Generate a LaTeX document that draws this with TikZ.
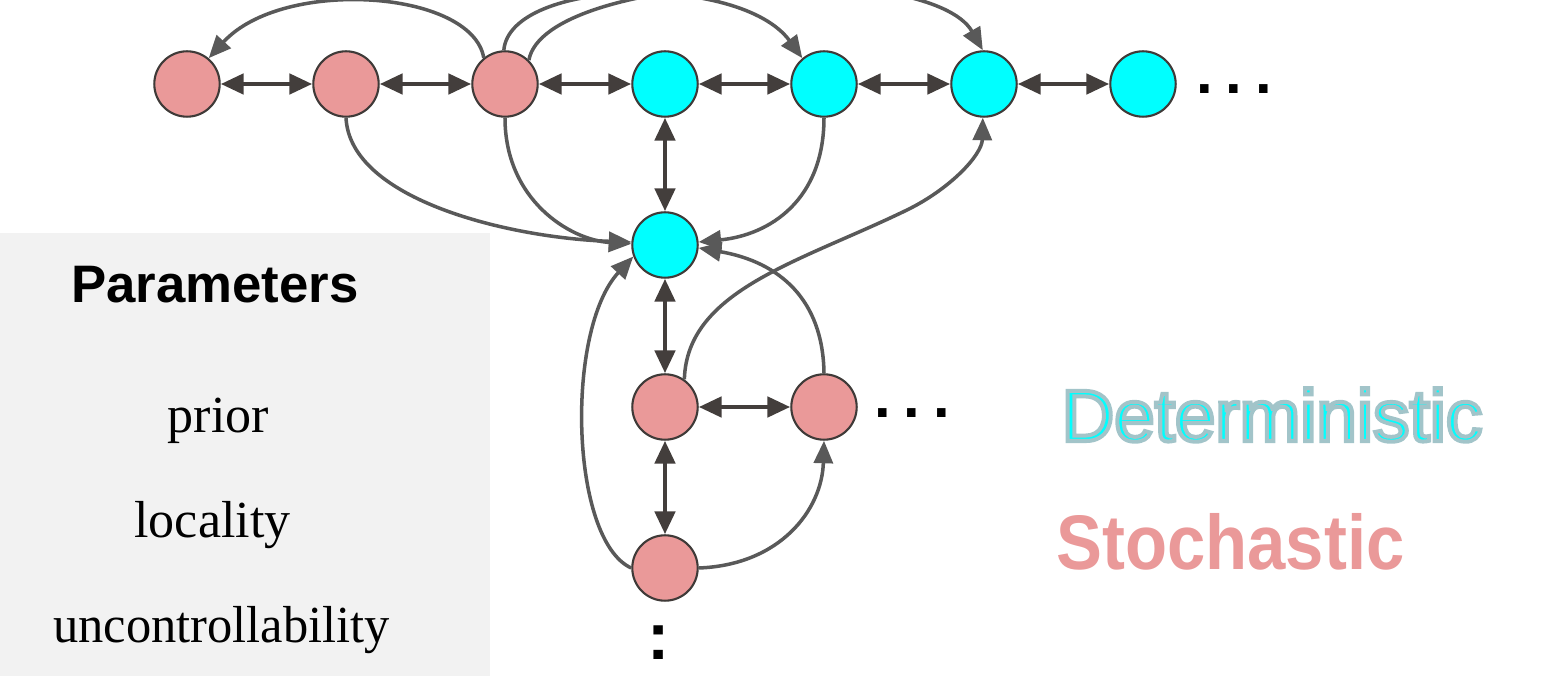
\documentclass[tikz,border=0pt]{standalone}
\usepackage{fontspec}
\setmainfont{Liberation Serif}
\newfontfamily\arial{Liberation Sans}
\font\detout="Liberation Sans:embolden=5.5" at 20.7pt
\usetikzlibrary{arrows.meta,calc}
\definecolor{stoch}{HTML}{EA9999}
\definecolor{detc}{HTML}{00FFFF}
\definecolor{detline}{HTML}{A2C4C9}
\definecolor{bordc}{HTML}{3F3A38}
\definecolor{dblc}{HTML}{433E3C}
\definecolor{crvc}{HTML}{595959}
\definecolor{panelc}{HTML}{F2F2F2}
\tikzset{
  stnode/.style={circle,draw=bordc,line width=0.6pt,fill=stoch,minimum size=18.6pt,inner sep=0pt},
  dtnode/.style={stnode,fill=detc},
  dblarrow/.style={draw=dblc,line width=1.3pt,{Triangle[length=6.5pt,width=5.7pt]}-{Triangle[length=6.5pt,width=5.7pt]}},
  crvarrow/.style={draw=crvc,line width=1.0pt,-{Triangle[length=6.4pt,width=5.4pt]}},
  seriftext/.style={font=\fontsize{14.8}{18}\selectfont,anchor=base,inner sep=0pt},
  dotstext/.style={font=\arial\bfseries\fontsize{17}{20}\selectfont,inner sep=0pt}
}
\begin{document}
\begin{tikzpicture}[x=0.01cm,y=-0.01cm]
\useasboundingbox (0,0) rectangle (1556,676);
% panel
\fill[panelc] (0,233) rectangle (490,676);

% nodes
\node[stnode] (s1) at (187,84) {};
\node[stnode] (s2) at (346,84) {};
\node[stnode] (s3) at (505,84) {};
\node[dtnode] (d1) at (665,84) {};
\node[dtnode] (d2) at (824,84) {};
\node[dtnode] (d3) at (984,84) {};
\node[dtnode] (d4) at (1143,84) {};
\node[dtnode] (c) at (665,245) {};
\node[stnode] (s4) at (665,407) {};
\node[stnode] (s5) at (824,407) {};
\node[stnode] (s6) at (665,568) {};

% double arrows
\draw[dblarrow] (s1) -- (s2);
\draw[dblarrow] (s2) -- (s3);
\draw[dblarrow] (s3) -- (d1);
\draw[dblarrow] (d1) -- (d2);
\draw[dblarrow] (d2) -- (d3);
\draw[dblarrow] (d3) -- (d4);
\draw[dblarrow] (d1) -- (c);
\draw[dblarrow] (c) -- (s4);
\draw[dblarrow] (s4) -- (s5);
\draw[dblarrow] (s4) -- (s6);

% curved arrows
\draw[crvarrow] (s3.129) .. controls (472,-10) and (283,-23) .. (s1.50);
\draw[crvarrow] (s3.92) .. controls (510,-22) and (740,-27) .. (d2.130);
\draw[crvarrow] (s3.45) .. controls (545,-28) and (930,-42) .. (d3.92);
\draw[crvarrow] (s2.270) .. controls (350,200) and (510,238) .. (c.175);
\draw[crvarrow] (s3.270) .. controls (505,200) and (570,240) .. (c.178);
\draw[crvarrow] (d2.270) .. controls (824,200) and (770,235) .. (c.5);
\draw[crvarrow] (s4.55) .. controls (687,290) and (800,262) .. (907,210)
                        .. controls (950,189) and (982,155) .. (d3.268);
\draw[crvarrow] (s5.90) .. controls (823,300) and (780,262) .. (c.355);
\draw[crvarrow] (s6.west) .. controls (570,540) and (565,330) .. (c.200);
\draw[crvarrow] (s6.east) .. controls (780,565) and (822,510) .. (s5.270);

% dots
\node[dotstext] (dtop) at (1234,89) {.\kern3.7pt.\kern3.7pt.};
\node[dotstext] (dmid) at (912,413) {.\kern3.7pt.\kern3.7pt.};
\node[font=\arial\bfseries\fontsize{19}{22}\selectfont,inner sep=0pt] (dbot) at (659,643) {:};

% parameter panel texts
\node[font=\arial\bfseries\fontsize{15}{18}\selectfont,anchor=base,inner sep=0pt] (param) at (215,303) {Parameters};
\node[seriftext] (prior) at (218.5,433) {prior};
\node[seriftext] (locality) at (212.5,538) {locality};
\node[seriftext,xscale=0.97] (uncont) at (221.5,643) {uncontrollability};

% legend
\node[anchor=base,inner sep=0pt,text=detc] (det) at (1272,441)
  {\special{pdf:code 0.635 0.769 0.788 RG}\detout Deterministic};
\node[font=\arial\bfseries\fontsize{22}{26}\selectfont,anchor=base,inner sep=0pt,text=stoch,xscale=0.89] (sto) at (1230.5,570) {Stochastic};
\end{tikzpicture}
\end{document}
